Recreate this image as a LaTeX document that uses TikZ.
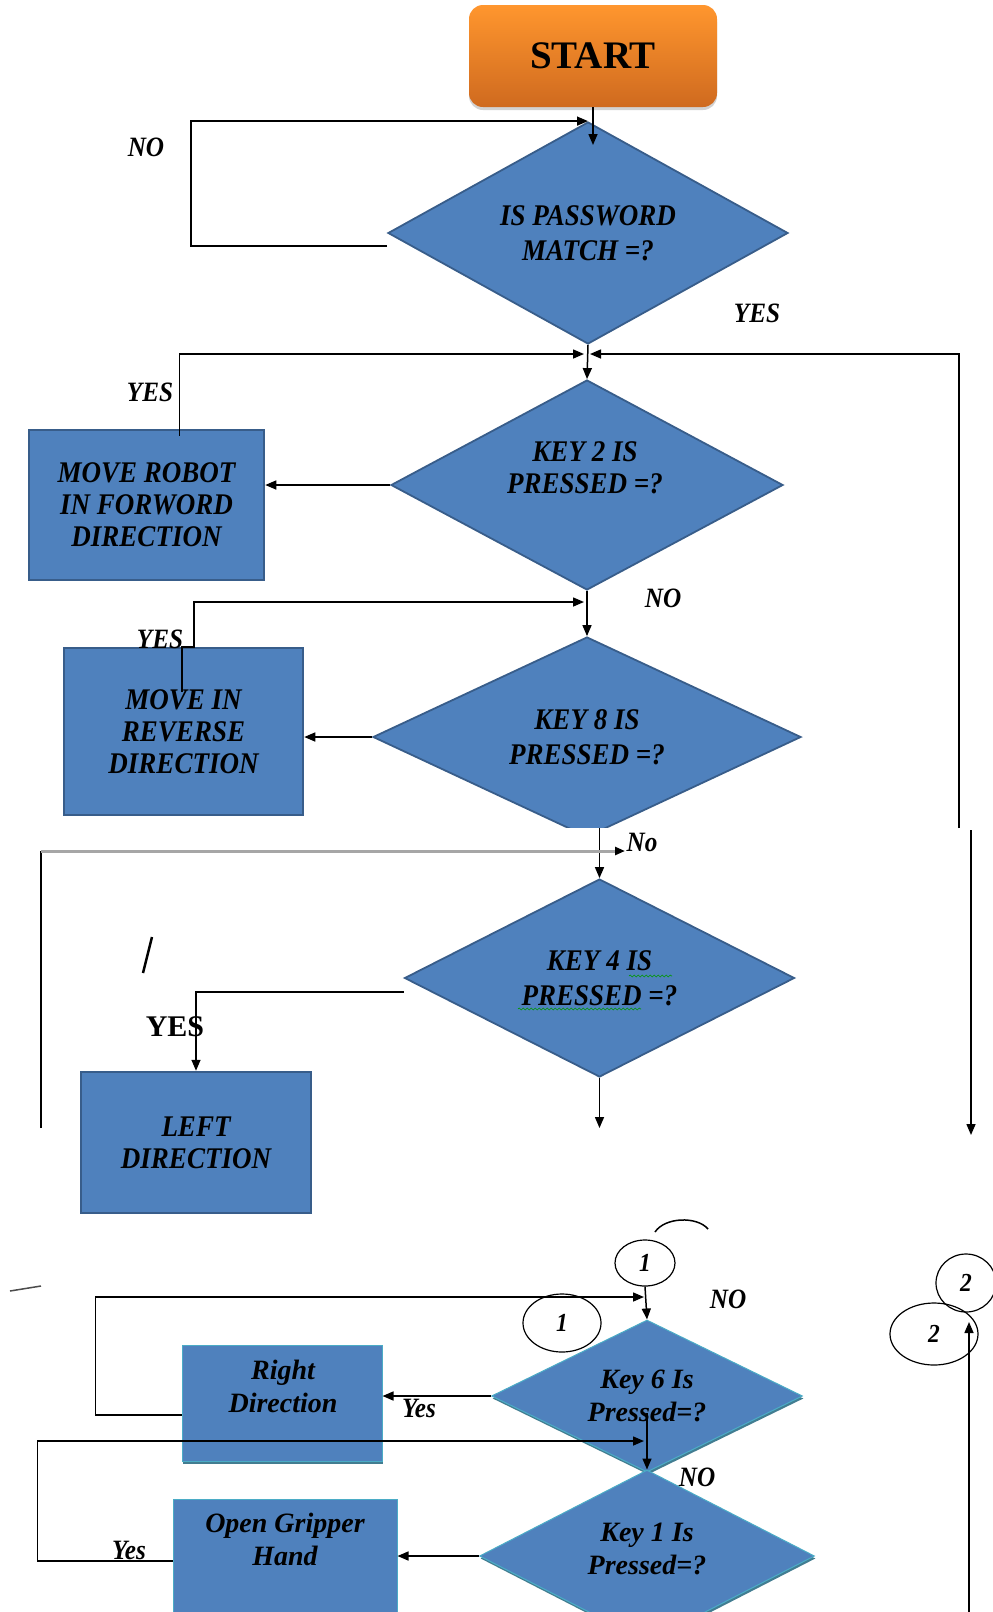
\documentclass[tikz,border=0pt]{standalone}
\usepackage{fontspec}
\setmainfont{Liberation Serif}
\newfontfamily\condfont{Liberation Serif}[FakeStretch=0.9]
\usetikzlibrary{arrows.meta, shapes.geometric, shadows, decorations.pathmorphing}
\definecolor{boxblue}{HTML}{4F81BD}
\definecolor{edgeblue}{HTML}{385D8A}
\definecolor{tealedge}{HTML}{4BACC6}
\definecolor{tealshade}{HTML}{2E6F86}
\definecolor{starttop}{HTML}{FF962E}
\definecolor{startbot}{HTML}{CF6A1F}
\tikzset{
  startbox/.style={rectangle, rounded corners=14pt, top color=starttop, bottom color=startbot,
    minimum width=248pt, minimum height=102pt, font=\fontsize{39}{40}\selectfont\bfseries,
    drop shadow={shadow xshift=0pt, shadow yshift=-3pt, opacity=0.35}},
  flowbox/.style={rectangle, draw=edgeblue, line width=2.5pt, fill=boxblue, inner sep=0pt,
    align=center, font=\condfont\bfseries\itshape\fontsize{30}{32}\selectfont},
  decide/.style={diamond, aspect=2, draw=edgeblue, line width=1.8pt, fill=boxblue, inner sep=0pt,
    align=center, font=\condfont\bfseries\itshape\fontsize{30}{35}\selectfont},
  lowshape/.style={draw=tealedge, line width=1pt,
    drop shadow={shadow xshift=1pt, shadow yshift=-2.5pt, fill=tealshade, opacity=0.9}},
  txt/.style={align=center, inner sep=0pt, font=\condfont\bfseries\itshape\fontsize{30}{32}\selectfont},
  small/.style={font=\bfseries\itshape\fontsize{28}{33}\selectfont},
  lbl/.style={inner sep=0pt, font=\condfont\bfseries\itshape\fontsize{28}{30}\selectfont},
  conn/.style={ellipse, draw, line width=1.2pt, inner sep=0pt, font=\condfont\bfseries\itshape\fontsize{26}{26}\selectfont},
  flow/.style={line width=1.5pt},
  arr/.style={flow, -{Triangle[length=11pt, width=9pt]}},
  wavy/.style={green!60!black, line width=0.6pt, decorate, decoration={snake, amplitude=1pt, segment length=4pt}}
}
\begin{document}
\begin{tikzpicture}[x=1pt, y=-1pt]
  \clip (0,0) rectangle (993,1612);
  \fill[white] (0,0) rectangle (993,1612);

  \node[startbox] (start) at (593,56) {START};
  \node[decide, minimum width=400pt, minimum height=222pt] (pass) at (588,233) {IS PASSWORD\\MATCH =?};
  \node[decide, minimum width=392pt, minimum height=210pt] (key2) at (587,485) {};
  \node[txt] (key2-t) at (585,468) {KEY 2 IS\\PRESSED =?};
  \node[flowbox, minimum width=235pt, minimum height=150pt] (fwd) at (146.5,505) {MOVE ROBOT\\IN FORWORD\\DIRECTION};
  \node[decide, minimum width=428pt, minimum height=200pt] (key8) at (587,737) {KEY 8 IS\\PRESSED =?};
  \fill[white] (540,828) rectangle (640,845);
  \node[flowbox, minimum width=239pt, minimum height=167pt] (rev) at (183.5,731.5) {MOVE IN\\REVERSE\\DIRECTION};
  \node[decide, minimum width=390pt, minimum height=198pt] (key4) at (599.5,978) {KEY 4 IS\\PRESSED =?};
  \node[flowbox, minimum width=230pt, minimum height=141pt] (left) at (196,1142.5) {LEFT\\DIRECTION};

  \node[conn, minimum width=60pt, minimum height=46pt] (circ1a) at (645,1263) {1};
  \node[conn, minimum width=78pt, minimum height=58pt] (circ1b) at (562,1323) {1};
  \node[conn, minimum width=60pt, minimum height=58pt] (circ2a) at (966,1283) {2};
  \node[conn, minimum width=88pt, minimum height=62pt] (circ2b) at (934,1334) {2};
  \node[decide, lowshape, small, minimum width=311pt, minimum height=152pt] (key6) at (647,1396) {Key 6 Is\\Pressed=?};
  \node[flowbox, lowshape, minimum width=200pt, minimum height=116pt] (right) at (282,1403) {};
  \node[txt, small] (right-t) at (283,1386) {Right\\Direction};
  \node[decide, lowshape, minimum width=335pt, minimum height=172pt] (key1) at (647,1556) {};
  \node[txt, small] (key1-t) at (647,1549) {Key 1 Is\\Pressed=?};
  \node[flowbox, draw=tealedge, line width=1pt, minimum width=224pt, minimum height=150pt] (grip) at (285,1574) {};
  \node[txt, small] (grip-t) at (285,1539) {Open Gripper\\Hand};

  \coordinate (passin) at (593,145);
  \coordinate (pj) at (587,354);
  \coordinate (rt) at (959,828);
  \coordinate (rb1) at (971,830);
  \coordinate (rb2) at (971,1135);
  \coordinate (pj2) at (587,602);
  \coordinate (k8b) at (599.5,828);
  \coordinate (lt) at (41,1128);
  \coordinate (nj) at (625,851);
  \coordinate (k4out) at (599.5,1128);
  \coordinate (bj1) at (647,1297);
  \coordinate (k6in) at (647,1413);
  \coordinate (bj2) at (647,1441);
  \coordinate (rb3) at (969,1612);
  \coordinate (rb4) at (969,1322);

  \draw[arr] (start.south) -- (passin);
  \draw[arr] ([yshift=-13pt]pass.west) -- ++(-196,0) |- (pass.north);
  \draw[arr] (pass.south) -- (key2.north);
  \draw[arr] ([xshift=33pt,yshift=-7pt]fwd.north) |- ([xshift=-3pt]pj);
  \draw[arr] (rt) |- ([xshift=3pt]pj);
  \draw[arr] (rb1) -- (rb2);
  \draw[arr] (key2.west) -- (key2.west -| fwd.east);
  \draw[arr] (key2.south) -- (key8.north);
  \draw[arr] ([xshift=-1.5pt,yshift=-45pt]rev.north) -- ([xshift=-1.5pt]rev.north) -- ([xshift=10.5pt]rev.north) |- ([xshift=-3pt]pj2);
  \draw[arr] (key8.west) -- (key8.west -| rev.east);
  \draw[arr] (k8b) -- (key4.north);
  \draw[flow] (lt) -- (lt |- nj);
  \draw[gray!70, line width=3pt, -{Triangle[length=10pt, width=8pt, color=black]}] (lt |- nj) -- (nj);
  \draw[arr] ([yshift=-14pt]key4.west) -| (left.north);
  \draw[arr] (key4.south) -- (k4out);

  \draw[arr] (circ1a.south) -- (key6.north);
  \draw[arr] ([yshift=-12pt]right.west) -- ++(-86,0) |- ([xshift=-3pt]bj1);
  \draw[arr] (key6.west) -- (key6.west -| right.east);
  \draw[arr] (k6in) -- (key1.north);
  \draw[arr] ([yshift=13pt]grip.west) -- ++(-135,0) |- ([xshift=-3pt]bj2);
  \draw[arr] (key1.west) -- (key1.west -| grip.east);
  \draw[arr] (rb3) -- (rb4);

  \draw[flow] (655,1232) .. controls (665,1217) and (697,1216) .. (708,1229);
  \draw[line width=2.5pt] (152,937) -- (143,973);
  \draw[line width=1.5pt, gray!60!black] (10,1291) -- (41,1286);
  \draw[wavy] (629,976) -- (672,976);
  \draw[wavy] (518,1009) -- (641,1009);

  \node[lbl] (no1) at (146,147) {NO};
  \node[lbl] (yes1) at (757,313) {YES};
  \node[lbl] (yes2) at (150,392) {YES};
  \node[lbl] (no2) at (663,598) {NO};
  \node[lbl] (yes3) at (160,639) {YES};
  \node[lbl] (no3) at (642,842) {No};
  \node[lbl, font=\bfseries\fontsize{30}{30}\selectfont] (yes4) at (175,1027) {YES};
  \node[lbl] (no4) at (728,1299) {NO};
  \node[lbl] (yes5) at (419,1408) {Yes};
  \node[lbl] (no5) at (697,1477) {NO};
  \node[lbl] (yes6) at (129,1550) {Yes};
\end{tikzpicture}
\end{document}
